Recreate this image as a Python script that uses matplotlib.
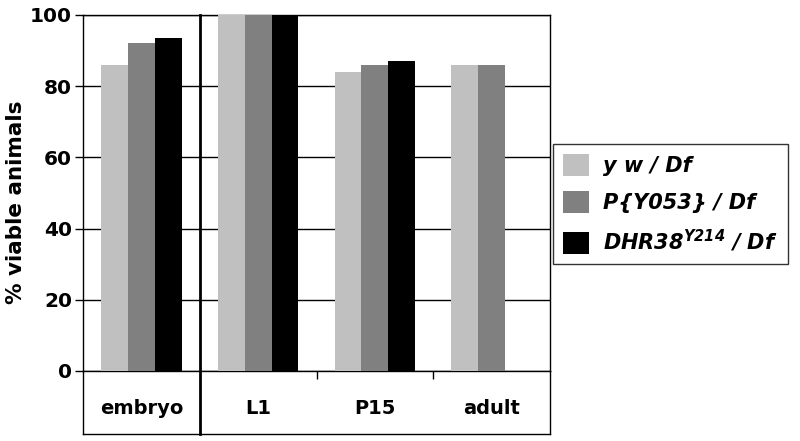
import matplotlib
matplotlib.use("Agg")
import matplotlib.pyplot as plt
from matplotlib.patches import Patch
import numpy as np

plt.rcParams['mathtext.fontset'] = 'custom'
plt.rcParams['mathtext.bfit'] = 'DejaVu Sans:bold:italic'
plt.rcParams['mathtext.bf'] = 'DejaVu Sans:bold'

categories = ["embryo", "L1", "P15", "adult"]
series_names = ["y w / Df", "P{Y053} / Df", r"DHR38$\mathbfit{^{Y214}}$ / Df"]
yw = [86, 100, 84, 86]
py053 = [92, 100, 86, 86]
dhr38 = [93.5, 100, 87, np.nan]
colors = ["#C0C0C0", "#808080", "#000000"]
yticks = [0, 20, 40, 60, 80, 100]

fig = plt.figure(figsize=(8, 4.41), dpi=100)
ax = fig.add_axes([83/800, 70/441, 467/800, 356/441])

x = np.arange(len(categories))
w = 0.23
for i, (vals, c) in enumerate(zip([yw, py053, dhr38], colors)):
    v = np.array(vals, dtype=float)
    m = ~np.isnan(v)
    ax.bar(x[m] + (i - 1) * w, v[m], width=w, color=c, zorder=3, linewidth=0)

ax.set_xlim(-0.5, 3.5)
ax.set_ylim(0, 100)
ax.set_yticks(yticks)
ax.set_yticklabels([str(t) for t in yticks], fontfamily='DejaVu Sans',
                   fontweight='bold', fontsize=14.5)
ax.tick_params(axis='y', length=6, width=1, pad=2)
ax.yaxis.grid(True, color='black', linewidth=1, zorder=0)
ax.set_axisbelow(True)

# category boundary ticks
ax.set_xticks([1.5, 2.5])
ax.set_xticklabels(["", ""])
ax.tick_params(axis='x', which='major', length=6, width=1, direction='out')
ax.set_xticks(x, minor=True)
ax.set_xticklabels(categories, minor=True, fontfamily='DejaVu Sans',
                   fontweight='bold', fontsize=14)
ax.tick_params(axis='x', which='minor', length=0, pad=20)

ax.set_ylabel("% viable animals", fontfamily='DejaVu Sans', fontweight='bold',
              fontsize=15.5)
ax.yaxis.set_label_coords(-0.122, 0.475)

for s in ax.spines.values():
    s.set_linewidth(1)
    s.set_color('black')

# label box below the axes
bot = -63/356
tr = ax.get_xaxis_transform()
ax.plot([-0.5, -0.5], [0, bot], transform=tr, color='black', lw=1, clip_on=False)
ax.plot([3.5, 3.5], [0, bot], transform=tr, color='black', lw=1, clip_on=False)
ax.plot([-0.5, 3.5], [bot, bot], transform=tr, color='black', lw=1, clip_on=False)
ax.plot([0.5, 0.5], [1, bot], transform=tr, color='black', lw=2, clip_on=False, zorder=5)

handles = [Patch(facecolor=c, edgecolor='none') for c in colors]
leg = fig.legend(handles, series_names, loc='upper left',
                 bbox_to_anchor=(553/800, 1 - 144/441),
                 prop={'family': 'DejaVu Sans', 'weight': 'bold',
                       'style': 'italic', 'size': 15},
                 frameon=True, fancybox=False, edgecolor='black',
                 handlelength=1.25, handleheight=1.25, labelspacing=0.7,
                 borderpad=0.5, handletextpad=0.65, borderaxespad=0)
leg.get_frame().set_linewidth(1)

fig.savefig("out.png", dpi=100)
